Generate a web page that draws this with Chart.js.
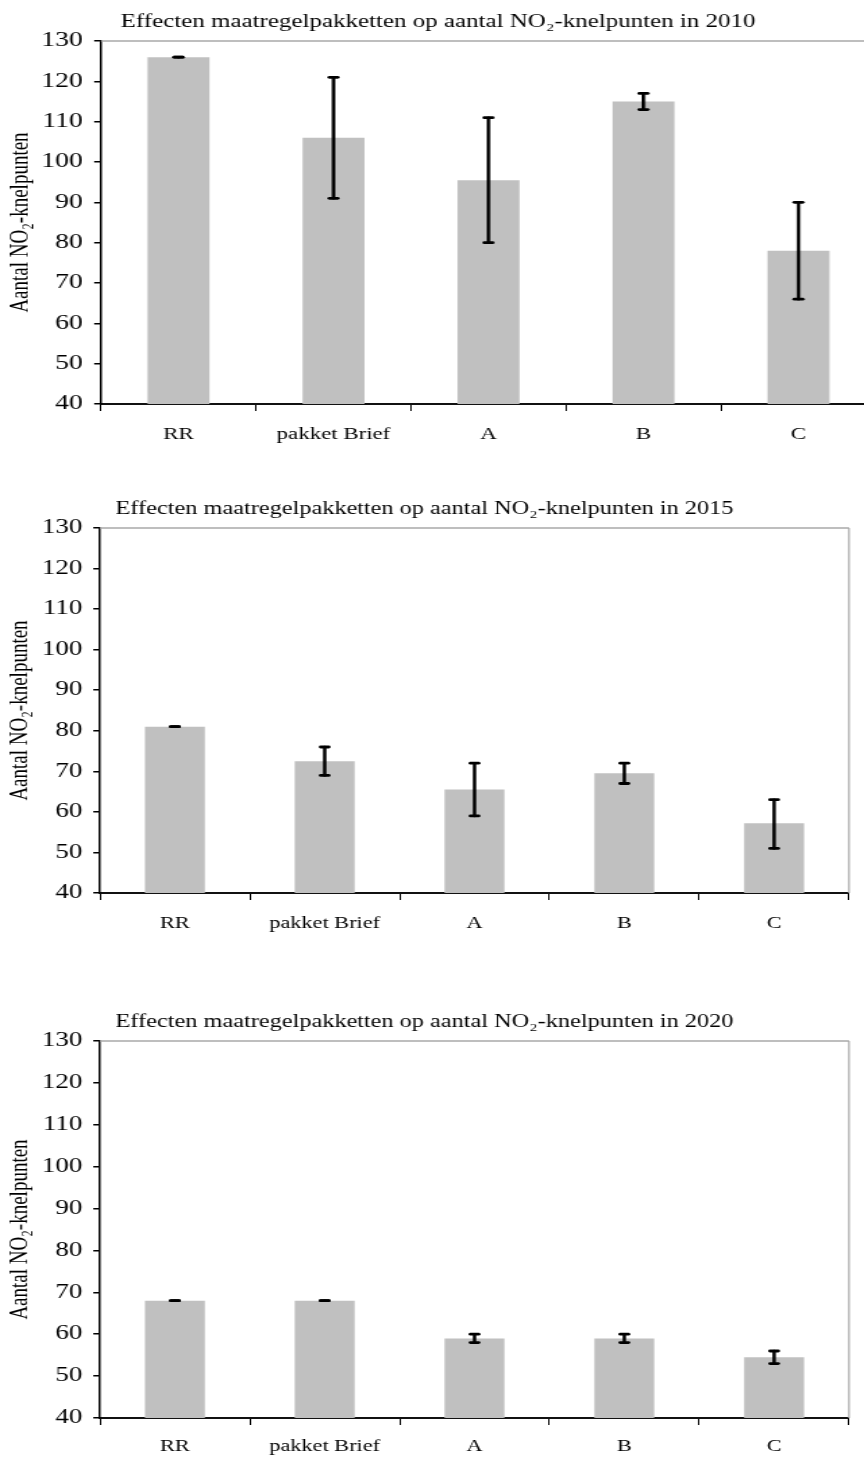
<!DOCTYPE html>
<html>
<head>
<meta charset="utf-8">
<script src="https://cdn.jsdelivr.net/npm/chart.js@4.4.1/dist/chart.umd.min.js"></script>
<style>
  body { margin: 0; width: 864px; height: 1460px; overflow: hidden; background: #fff; position: relative; }
  canvas { position: absolute; left: 0; }
</style>
</head>
<body>
<script>
const categories = ['RR', 'pakket Brief', 'A', 'B', 'C'];

const values2010 = [126, 106, 95.5, 115, 78];
const low2010 = [126, 91, 80, 113, 66];
const high2010 = [126, 121, 111, 117, 90];

const values2015 = [81, 72.5, 65.5, 69.5, 57.2];
const low2015 = [81, 69, 59, 67, 51];
const high2015 = [81, 76, 72, 72, 63];

const values2020 = [68, 68, 59, 59, 54.5];
const low2020 = [68, 68, 58, 58, 53];
const high2020 = [68, 68, 60, 60, 56];

const yMin = 40, yMax = 130, yStep = 10;
const yTitle = 'Aantal NO₂-knelpunten';
const titleText = year => `Effecten maatregelpakketten op aantal NO₂-knelpunten in ${year}`;

const serif = "'Liberation Serif', 'Times New Roman', serif";

// the reference is stretched sideways, so each canvas is drawn narrow and widened with css
const panels = [
  { year: '2010', values: values2010, low: low2010, high: high2010,
    top: 0, sx: 1.386, cssWidth: 876, plotLeft: 101, plotRight: 876, plotTop: 41, plotBottom: 404, labelPad: 14 },
  { year: '2015', values: values2015, low: low2015, high: high2015,
    top: 487, sx: 1.35, cssWidth: 864, plotLeft: 100, plotRight: 849, plotTop: 528, plotBottom: 893, labelPad: 14 },
  { year: '2020', values: values2020, low: low2020, high: high2020,
    top: 1000, sx: 1.35, cssWidth: 864, plotLeft: 100, plotRight: 849, plotTop: 1041, plotBottom: 1418, labelPad: 12 }
];

function makeErrorBars(low, high) {
  return {
    id: 'errorBars',
    afterDatasetsDraw(chart) {
      const { ctx } = chart;
      const y = chart.scales.y;
      const meta = chart.getDatasetMeta(0);
      ctx.save();
      ctx.strokeStyle = '#000';
      ctx.lineCap = 'round';
      meta.data.forEach((bar, i) => {
        const yLo = y.getPixelForValue(low[i]);
        const yHi = y.getPixelForValue(high[i]);
        ctx.lineWidth = 2.5;
        ctx.beginPath(); ctx.moveTo(bar.x, yLo); ctx.lineTo(bar.x, yHi); ctx.stroke();
        ctx.lineWidth = 2.8;
        [yLo, yHi].forEach(v => {
          ctx.beginPath(); ctx.moveTo(bar.x - 3, v); ctx.lineTo(bar.x + 3, v); ctx.stroke();
        });
      });
      ctx.restore();
    }
  };
}

const frame = {
  id: 'frame',
  afterDraw(chart) {
    const { ctx, chartArea: a } = chart;
    ctx.save();
    ctx.strokeStyle = '#a8a8a8';
    ctx.lineWidth = 1.6;
    ctx.beginPath(); ctx.moveTo(a.left, a.top); ctx.lineTo(a.right, a.top); ctx.stroke();
    ctx.lineWidth = 1.2;
    ctx.beginPath(); ctx.moveTo(a.right, a.top); ctx.lineTo(a.right, a.bottom); ctx.stroke();
    ctx.restore();
  }
};

const xAxisHeight = 50;

panels.forEach(p => {
  const w = Math.round(p.cssWidth / p.sx);
  const sx = p.cssWidth / w;
  const h = p.plotBottom - p.top + xAxisHeight;
  const canvas = document.createElement('canvas');
  canvas.id = 'chart' + p.year;
  canvas.width = w;
  canvas.height = h;
  canvas.style.top = p.top + 'px';
  canvas.style.width = p.cssWidth + 'px';
  canvas.style.height = h + 'px';
  document.body.appendChild(canvas);

  new Chart(canvas.getContext('2d'), {
    type: 'bar',
    data: {
      labels: categories,
      datasets: [{
        data: p.values,
        backgroundColor: '#c0c0c0',
        borderWidth: 0,
        barPercentage: 0.4,
        categoryPercentage: 1
      }]
    },
    options: {
      responsive: false,
      devicePixelRatio: 1,
      animation: false,
      layout: { padding: { top: 0, left: 0, bottom: 0, right: (p.cssWidth - p.plotRight) / sx } },
      plugins: {
        legend: { display: false },
        tooltip: { enabled: false },
        title: {
          display: true,
          text: titleText(p.year),
          color: '#000',
          font: { family: serif, size: 18, weight: 'normal', lineHeight: 1.2 },
          padding: { top: p.plotTop - p.top - 30, bottom: 8.4 }
        }
      },
      scales: {
        x: {
          grid: { drawOnChartArea: false, tickLength: 7, color: '#000', lineWidth: 1 },
          border: { color: '#111', width: 2 },
          ticks: { color: '#000', font: { family: serif, size: 16.5 }, padding: p.labelPad, maxRotation: 0, autoSkip: false },
          afterFit: s => { s.height = xAxisHeight; }
        },
        y: {
          min: yMin,
          max: yMax,
          grid: { drawOnChartArea: false, tickLength: 5, color: '#000', lineWidth: 1.5 },
          border: { color: '#000', width: 1.5 },
          ticks: { stepSize: yStep, color: '#000', font: { family: serif, size: 20 }, padding: 8 },
          title: {
            display: true,
            text: yTitle,
            color: '#000',
            font: { family: serif, size: 19, lineHeight: 1.2 },
            padding: { top: 3.5, bottom: 0 }
          },
          afterFit: s => { s.width = p.plotLeft / sx; }
        }
      }
    },
    plugins: [makeErrorBars(p.low, p.high), frame]
  });
});
</script>
</body>
</html>
